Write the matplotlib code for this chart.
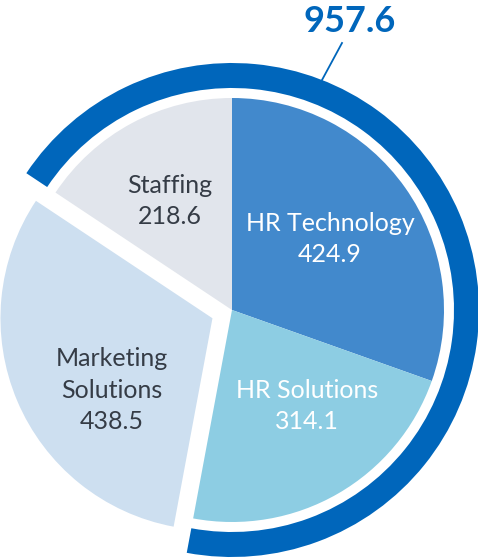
import matplotlib
matplotlib.use("Agg")
import matplotlib.pyplot as plt

# data
segments = ["HR Technology", "HR Solutions", "Marketing\nSolutions", "Staffing"]
values = [424.9, 314.1, 438.5, 218.6]
ring_total = 957.6   # HR Technology + HR Solutions + Staffing

colors = ["#4289cc", "#8dcde3", "#cddff0", "#e1e5ec"]
text_colors = ["white", "white", "#353c46", "#353c46"]
ring_color = "#0066bb"

plt.rcParams["font.family"] = ["Lato", "DejaVu Sans"]

fig = plt.figure(figsize=(4.78, 5.59), dpi=100)
ax = fig.add_axes([0, 0, 1, 1])

# pixel frame: centre at (232, 310), radius 212 px
cx, cy, R = 232, 310, 212.0

def px(x, y):
    return (x - cx) / R, (cy - y) / R

total = sum(values)
wedges, _ = ax.pie(values, colors=colors, startangle=90, counterclock=False,
                   explode=[0, 0, 0.1, 0], radius=1.0,
                   wedgeprops=dict(linewidth=0))

# outer ring covering everything but Marketing Solutions
start = 90 + values[3] / total * 360
ax.pie([ring_total, total - ring_total], colors=[ring_color, "none"],
       startangle=start, counterclock=False, radius=247 / R,
       wedgeprops=dict(width=25 / R, linewidth=0))

# labels
label_pos = [(330, 239), (307, 406), (112, 390), (170, 201)]
for name, v, (lx, ly), tc in zip(segments, values, label_pos, text_colors):
    x, y = px(lx, ly)
    ax.text(x, y, f"{name}\n{v:.1f}", ha="center", va="center", color=tc,
            fontsize=18, linespacing=1.45)

# total callout
x0, y0 = px(322, 80)
x1, y1 = px(342, 43)
ax.plot([x0, x1], [y0, y1], color=ring_color, linewidth=1.3)
tx, ty = px(350, 22)
ax.text(tx, ty, f"{ring_total:.1f}", ha="center", va="center", color=ring_color,
        fontsize=26, fontweight="bold")

xl, yb = px(0, 559)
xr, yt = px(478, 0)
ax.set_xlim(xl, xr)
ax.set_ylim(yb, yt)
ax.set_aspect("equal")
ax.axis("off")

fig.savefig("out.png", dpi=100)
